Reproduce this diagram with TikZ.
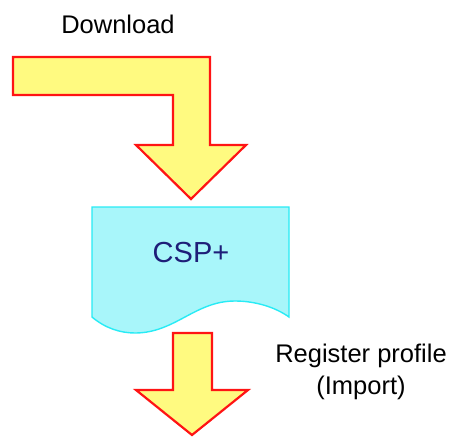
\documentclass[tikz,border=0pt]{standalone}
\usepackage{fontspec}
\setmainfont{Liberation Sans}
\definecolor{arrowfill}{RGB}{255,250,128}
\definecolor{arrowline}{RGB}{255,20,20}
\definecolor{docfill}{RGB}{168,246,250}
\definecolor{docline}{RGB}{40,235,245}
\definecolor{csptext}{RGB}{30,30,120}
\begin{document}
\begin{tikzpicture}[x=1pt,y=-1pt,
  bigarrow/.style={fill=arrowfill,draw=arrowline,line width=2.2pt,line join=miter},
  docshape/.style={fill=docfill,draw=docline,line width=1.4pt},
  label/.style={font=\fontsize{25.5}{30}\selectfont,inner sep=0pt}]
\useasboundingbox (0,0) rectangle (452,437);
% top bent arrow
\draw[bigarrow] (13,57) -- (210,57) -- (210,145) -- (246,145) -- (191,199)
  -- (136,145) -- (173,145) -- (173,95) -- (13,95) -- cycle;
% document
\draw[docshape] (92,207) -- (289,207) -- (289,317)
  .. controls (275,307) and (255,301) .. (235,301)
  .. controls (215,301) and (200,309) .. (185,317)
  .. controls (170,325) and (155,333) .. (135,333)
  .. controls (120,333) and (105,328) .. (92,317) -- cycle;
\node[font=\fontsize{29}{34}\selectfont,inner sep=0pt,text=csptext,anchor=base] (csp) at (191,262) {CSP+};
% bottom arrow
\draw[bigarrow] (173,333) -- (212,333) -- (212,390) -- (248,390) -- (192,435)
  -- (136,390) -- (173,390) -- cycle;
% labels
\node[label,anchor=base] (dl) at (118,33) {Download};
\node[label,anchor=base] (reg) at (361,362) {Register profile};
\node[label,anchor=base] (imp) at (361,394) {(Import)};
\end{tikzpicture}
\end{document}
